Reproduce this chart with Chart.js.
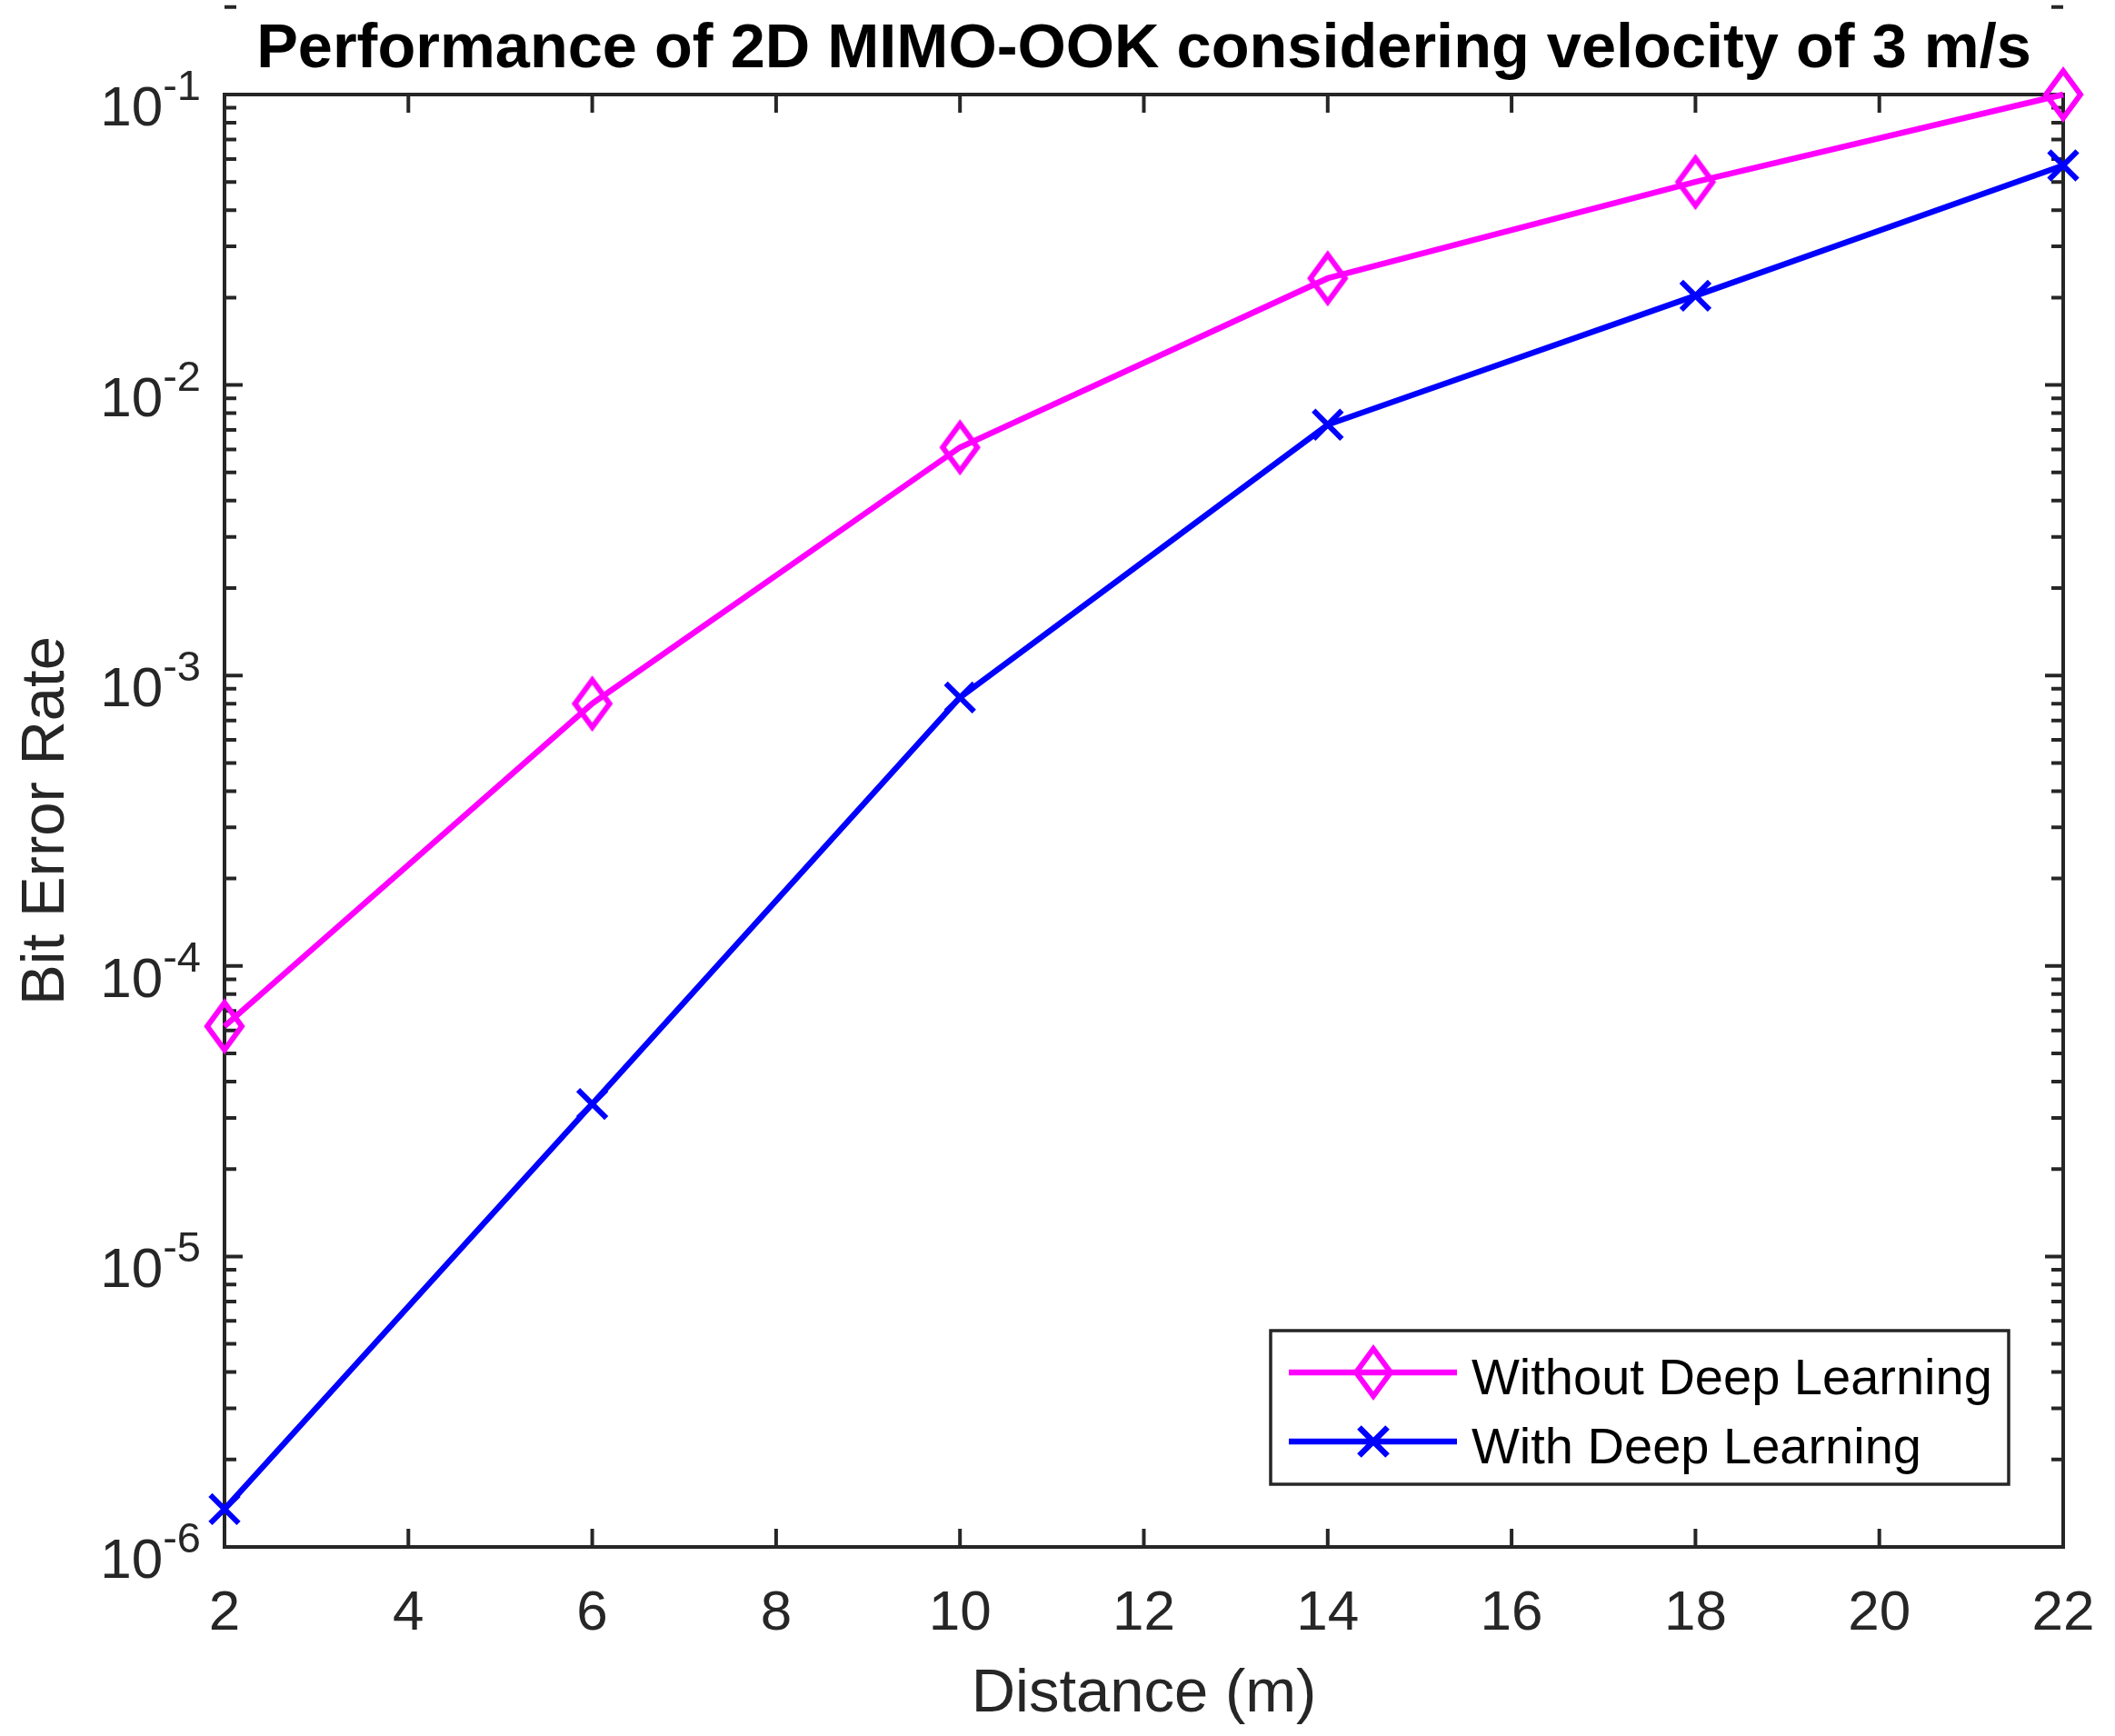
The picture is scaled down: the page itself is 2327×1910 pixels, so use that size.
<!DOCTYPE html>
<html>
<head>
<meta charset="utf-8">
<title>Performance of 2D MIMO-OOK considering velocity of 3 m/s</title>
<script src="https://cdn.jsdelivr.net/npm/chart.js@4.4.1/dist/chart.umd.min.js"></script>
<style>
  html, body { margin: 0; padding: 0; background: #fff; }
  #wrap { width: 2327px; height: 1910px; position: relative; }
</style>
</head>
<body>
<div id="wrap"><canvas id="berChart"></canvas></div>
<script>
// values (BER on a log axis)
const distances = [2, 6, 10, 14, 18, 22];
const berWithoutDL = [6.2e-5, 8.0e-4, 6.1e-3, 2.33e-2, 5.0e-2, 1.0e-1];
const berWithDL = [1.35e-6, 3.35e-5, 8.4e-4, 7.3e-3, 2.03e-2, 5.7e-2];
const seriesNames = ['Without Deep Learning', 'With Deep Learning'];
const xTicks = [2, 4, 6, 8, 10, 12, 14, 16, 18, 20, 22];
const yDecades = [-6, -5, -4, -3, -2, -1];

const titleText = 'Performance of 2D MIMO-OOK considering velocity of 3 m/s';
const xLabel = 'Distance (m)';
const yLabel = 'Bit Error Rate';

const FONT = '"Liberation Sans", Arial, Helvetica, sans-serif';
const AXIS_COLOR = '#262626';
const MAGENTA = '#ff00ff';
const BLUE = '#0000ff';

// MATLAB-style open diamond, a bit taller than wide
function diamondMarker(color) {
  const c = document.createElement('canvas');
  c.width = 56; c.height = 74;
  const g = c.getContext('2d');
  g.strokeStyle = color;
  g.lineWidth = 6;
  g.beginPath();
  g.moveTo(28, 11); g.lineTo(47, 37); g.lineTo(28, 63); g.lineTo(9, 37);
  g.closePath();
  g.stroke();
  return c;
}

function toPoints(xs, ys) {
  return xs.map((d, i) => ({ x: d, y: ys[i] }));
}

// axes box, inward ticks, tick labels, titles and legend drawn like MATLAB
const matlabAxes = {
  id: 'matlabAxes',
  beforeDatasetsDraw(chart) {
    const { ctx, chartArea: a, scales: { x, y } } = chart;
    ctx.save();
    ctx.strokeStyle = AXIS_COLOR;
    ctx.lineWidth = 4;
    ctx.beginPath();
    xTicks.forEach(v => {
      const px = x.getPixelForValue(v);
      ctx.moveTo(px, a.bottom); ctx.lineTo(px, a.bottom - 20);
      ctx.moveTo(px, a.top); ctx.lineTo(px, a.top + 20);
    });
    yDecades.forEach(e => {
      for (let m = 1; m < 10; m++) {
        const py = y.getPixelForValue(m * Math.pow(10, e));
        const len = m === 1 ? 20 : 13;
        ctx.moveTo(a.left, py); ctx.lineTo(a.left + len, py);
        ctx.moveTo(a.right, py); ctx.lineTo(a.right - len, py);
      }
    });
    ctx.stroke();
    ctx.strokeRect(a.left, a.top, a.right - a.left, a.bottom - a.top);
    ctx.restore();
  },
  afterDraw(chart) {
    const { ctx, chartArea: a, scales: { x, y } } = chart;
    const cx = (a.left + a.right) / 2;
    const cy = (a.top + a.bottom) / 2;
    ctx.save();
    ctx.fillStyle = AXIS_COLOR;
    ctx.textBaseline = 'alphabetic';

    // x tick labels
    ctx.font = '62px ' + FONT;
    ctx.textAlign = 'center';
    xTicks.forEach(v => ctx.fillText(String(v), x.getPixelForValue(v), a.bottom + 91));

    // y tick labels 10^e
    ctx.textAlign = 'left';
    yDecades.forEach(e => {
      const py = y.getPixelForValue(Math.pow(10, e));
      ctx.font = '62px ' + FONT;
      const w1 = ctx.measureText('10').width;
      ctx.font = '47px ' + FONT;
      const exp = '-' + Math.abs(e);
      const w2 = ctx.measureText(exp).width;
      const x0 = a.left - 26 - w1 - w2;
      ctx.font = '62px ' + FONT;
      ctx.fillText('10', x0, py + 34);
      ctx.font = '47px ' + FONT;
      ctx.fillText(exp, x0 + w1, py + 6);
    });

    // axis titles
    ctx.font = '67px ' + FONT;
    ctx.textAlign = 'center';
    ctx.fillText(xLabel, cx, a.bottom + 181);
    ctx.save();
    ctx.translate(70, cy);
    ctx.rotate(-Math.PI / 2);
    ctx.fillText(yLabel, 0, 0);
    ctx.restore();

    // title
    ctx.fillStyle = '#000';
    ctx.font = 'bold 68.5px ' + FONT;
    ctx.fillText(titleText, cx, 74);

    // legend box, lower right inside the axes
    const bx = a.right - 872, by = a.bottom - 238, bw = 812, bh = 169;
    ctx.fillStyle = '#fff';
    ctx.fillRect(bx, by, bw, bh);
    ctx.strokeStyle = AXIS_COLOR;
    ctx.lineWidth = 3.5;
    ctx.strokeRect(bx, by, bw, bh);
    chart.data.datasets.forEach((ds, i) => {
      const ry = by + 46 + i * 76;
      ctx.strokeStyle = ds.borderColor;
      ctx.lineWidth = ds.borderWidth;
      ctx.beginPath();
      ctx.moveTo(bx + 20, ry); ctx.lineTo(bx + 205, ry);
      ctx.stroke();
      Chart.helpers.drawPoint(ctx, {
        pointStyle: ds.pointStyle, radius: ds.pointRadius,
        borderWidth: ds.pointBorderWidth, rotation: 0
      }, bx + 113, ry);
      ctx.fillStyle = '#000';
      ctx.font = '56px ' + FONT;
      ctx.textAlign = 'left';
      ctx.fillText(ds.label, bx + 221, ry + 24);
    });
    ctx.restore();
  }
};

new Chart(document.getElementById('berChart'), {
  type: 'line',
  data: {
    datasets: [
      {
        label: seriesNames[0],
        data: toPoints(distances, berWithoutDL),
        borderColor: MAGENTA,
        backgroundColor: MAGENTA,
        borderWidth: 6.5,
        pointStyle: diamondMarker(MAGENTA),
        pointRadius: 26,
        pointBorderWidth: 6,
        clip: false
      },
      {
        label: seriesNames[1],
        data: toPoints(distances, berWithDL),
        borderColor: BLUE,
        backgroundColor: BLUE,
        borderWidth: 6.5,
        pointStyle: 'crossRot',
        pointRadius: 22,
        pointBorderWidth: 6,
        pointBorderColor: BLUE,
        clip: false
      }
    ]
  },
  options: {
    responsive: true,
    maintainAspectRatio: false,
    animation: false,
    events: [],
    layout: { autoPadding: false, padding: { left: 247, right: 57, top: 104, bottom: 208 } },
    scales: {
      x: { type: 'linear', min: 2, max: 22, display: false },
      y: { type: 'logarithmic', min: 1e-6, max: 1e-1, display: false }
    },
    plugins: {
      legend: { display: false },
      title: { display: false },
      tooltip: { enabled: false }
    }
  },
  plugins: [matlabAxes]
});
</script>
</body>
</html>
